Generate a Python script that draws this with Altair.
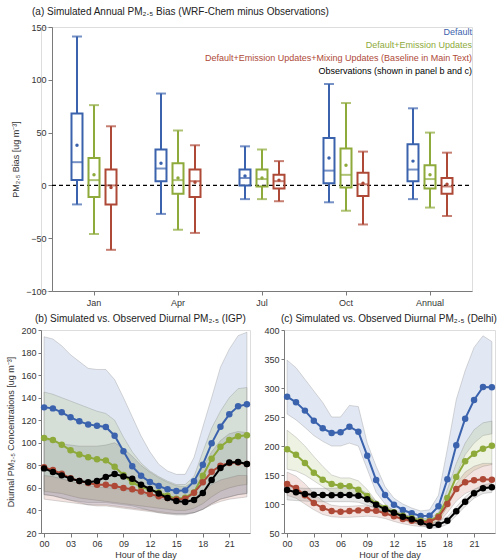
import altair as alt
import pandas as pd

FONT = "Liberation Sans"
BLUE = "#3B63AD"
GREEN = "#8DAA3B"
RED = "#AE4937"
BLACK = "#000000"

# ---------------- panel (a) data ----------------
cats = ["Jan", "Apr", "Jul", "Oct", "Annual"]
series_keys = ["Default", "Emission", "Mixing"]
legend_labels = ["Default", "Default+Emission Updates",
                 "Default+Emission Updates+Mixing Updates (Baseline in Main Text)",
                 "Observations (shown in panel b and c)"]

def_low = [-18, -27, -13, -16, -13]
def_q1 = [5, 4, 0, 2, 4]
def_med = [22, 16, 7, 14, 15]
def_q3 = [68, 34, 15, 45, 39]
def_high = [141, 87, 37, 96, 73]
def_mean = [38, 21, 9, 26, 23]

emi_low = [-46, -42, -13, -24, -21]
emi_q1 = [-11, -8, -1, -2, -3]
emi_med = [5, 5, 6, 10, 6]
emi_q3 = [26, 21, 15, 35, 19]
emi_high = [76, 52, 34, 78, 50]
emi_mean = [10, 7, 7, 19, 10]

mix_low = [-61, -45, -15, -37, -29]
mix_q1 = [-18, -11, -3, -10, -8]
mix_med = [0, 4, 4, 1, -1]
mix_q3 = [15, 15, 10, 12, 7]
mix_high = [56, 38, 23, 32, 31]
mix_mean = [-2, 3, 5, 2, 1]

# ---------------- panel (b)/(c) data ----------------
hours = list(range(24))
line_keys = ["Default", "Emission", "Mixing", "Obs"]

igp_def = [131.4, 130.5, 127, 122.6, 119, 116.3, 115.2, 114, 106.3, 92.4, 79.1, 70.8,
           65.2, 61.7, 58.7, 57.2, 57.8, 65.8, 80.6, 99.5, 114.3, 125.2, 132.3, 134.1]
igp_emi = [104.2, 102.5, 98.3, 93.3, 89.7, 87.1, 85.3, 84.4, 78.8, 71.4, 64.9, 61,
           58.4, 56, 53.1, 50.4, 51.3, 56, 70.8, 85.9, 96.5, 102.5, 105.7, 106.6]
igp_mix = [78.2, 75.8, 72.6, 68.5, 66.1, 64.3, 62.8, 62.8, 61.7, 59.9, 58.7, 56.9,
           54.6, 52.5, 51, 49.8, 50.4, 55.7, 64.9, 74.4, 79.7, 82, 82.6, 81.2]
igp_obs = [77.3, 74, 71.1, 68.2, 66.1, 64.9, 66.1, 69.7, 72.3, 70.2, 68.2, 62.8,
           59, 55.1, 51, 48.3, 47.5, 49.2, 55.5, 67, 77.6, 82.6, 82.9, 81.2]

igp_def_hi = [194, 192, 186, 178, 172, 166, 165, 165, 156, 140, 123, 106,
              92, 81, 75, 72, 72, 87, 114, 140, 167, 183, 195, 198]
igp_def_lo = [54, 53, 51, 49, 47, 45, 45, 45, 44, 43, 42, 41,
              40, 39, 38, 37, 37, 38, 41, 46, 50, 52, 54, 55]
igp_emi_hi = [145, 143, 140, 137, 134, 131, 128, 126, 120, 105, 92, 82,
              75, 70, 66, 63, 63, 70, 92, 113, 128, 140, 148, 149]
igp_emi_lo = [57, 56, 55, 53, 51, 50, 49, 48, 47, 46, 45, 44,
              43, 42, 41, 40, 40, 42, 46, 52, 57, 60, 62, 63]
igp_mix_hi = [71, 70, 68, 66, 64, 62, 61, 60, 60, 58, 57, 55,
              53, 51, 49, 48, 48, 51, 57, 63, 67, 69, 71, 71]
igp_mix_lo = [50, 49, 48, 47, 46, 45, 44, 44, 43, 42, 41, 40,
              39, 38, 37, 37, 37, 38, 41, 45, 48, 50, 51, 52]
igp_obs_hi = [103, 101, 99, 98, 97, 97, 97, 98, 100, 95, 88, 80,
              74, 69, 65, 62, 61, 66, 78, 92, 102, 108, 110, 109]
igp_obs_lo = [54, 53, 51, 49, 48, 47, 47, 47, 46, 45, 44, 42,
              40, 38, 37, 36, 36, 38, 41, 46, 50, 52, 54, 55]

del_def = [285, 275.3, 261, 243.7, 230.5, 222.4, 223.6, 233.3, 224.7, 183.3, 141.4, 115.5,
           98.9, 89.7, 84, 79.3, 79.9, 96, 142.5, 201.1, 247.1, 279.3, 301.7, 301.1]
del_emi = [194.3, 185, 170.7, 154, 142, 134.5, 131.6, 130.5, 124.7, 113.8, 100, 93.1,
           85.6, 79.9, 75.3, 71.3, 70.7, 79.3, 110.3, 146.6, 173.6, 186.8, 195.4, 200.6]
del_mix = [134.5, 127.6, 115, 101.7, 93.1, 87.9, 86.8, 87.9, 89, 89.7, 88.5, 84,
           78.7, 74.1, 71.3, 69, 69.5, 77, 100, 125.9, 137.4, 140.8, 142.5, 141.9]
del_obs = [124.1, 120.1, 117.2, 116.1, 115.5, 115, 115.5, 115.5, 114.4, 108, 98.9, 90.8,
           85.1, 78.2, 73.6, 68.4, 62.6, 64.4, 71.3, 87.4, 104, 118.4, 127, 128.7]

del_def_hi = [348, 335, 315, 295, 275, 250, 250, 270, 268, 205, 165, 130,
              110, 100, 93, 88, 90, 115, 195, 280, 330, 370, 390, 380]
del_def_lo = [255, 245, 232, 218, 208, 200, 200, 205, 200, 160, 120, 100,
              88, 80, 75, 72, 72, 82, 110, 150, 185, 205, 218, 221]
del_emi_hi = [227, 215, 200, 182, 165, 150, 145, 145, 140, 125, 105, 95,
              88, 82, 78, 75, 75, 85, 125, 170, 205, 228, 240, 243]
del_emi_lo = [160, 157, 150, 140, 130, 120, 118, 118, 115, 105, 92, 84,
              78, 72, 68, 64, 63, 70, 95, 125, 145, 158, 165, 168]
del_mix_hi = [155, 148, 135, 118, 105, 98, 96, 96, 97, 97, 95, 90,
              84, 79, 75, 72, 72, 80, 105, 135, 155, 165, 170, 170]
del_mix_lo = [115, 110, 100, 90, 82, 78, 77, 77, 78, 79, 78, 75,
              70, 66, 63, 61, 61, 67, 85, 105, 118, 125, 128, 128]
del_obs_hi = [130, 128, 127, 127, 127, 127, 128, 128, 127, 118, 105, 96,
              90, 83, 78, 73, 68, 70, 78, 95, 112, 125, 133, 136]
del_obs_lo = [107, 106, 105, 104, 104, 104, 104, 104, 103, 98, 92, 85,
              79, 73, 69, 64, 58, 59, 65, 80, 96, 110, 118, 120]

# ---------------- build panel (a) ----------------
rows = []
for key, lo, q1, md, q3, hi, mn in [
    ("Default", def_low, def_q1, def_med, def_q3, def_high, def_mean),
    ("Emission", emi_low, emi_q1, emi_med, emi_q3, emi_high, emi_mean),
    ("Mixing", mix_low, mix_q1, mix_med, mix_q3, mix_high, mix_mean),
]:
    for i, c in enumerate(cats):
        rows.append(dict(cat=c, series=key, low=lo[i], q1=q1[i], med=md[i],
                         q3=q3[i], high=hi[i], mean=mn[i]))
box_df = pd.DataFrame(rows)

AXC = "#7a7a7a"
SHIFT = 11          # top panel plot starts this far right of the lower panels
TOPW = 431
XA = alt.X("cat:N", sort=cats,
           scale=alt.Scale(domain=cats, paddingInner=0, paddingOuter=0, range=[SHIFT, TOPW]),
           axis=alt.Axis(title=None, labelAngle=0, labelFontSize=9, tickSize=4,
                         domainColor=AXC, tickColor=AXC, labelColor="#333", labelPadding=3))
XO = alt.XOffset("series:N", scale=alt.Scale(domain=series_keys, paddingInner=0, paddingOuter=0.97))
COL = alt.Color("series:N", scale=alt.Scale(domain=series_keys, range=[BLUE, GREEN, RED]), legend=None)
YS = alt.Scale(domain=[-100, 150], nice=False)
YA = alt.Axis(values=[-100, -50, 0, 50, 100, 150], title="PM₂.₅ Bias [ug m⁻³]",
              labelFontSize=9, titleFontSize=9, titleFontWeight="normal", tickSize=4,
              domainColor=AXC, tickColor=AXC, labelColor="#333", titleColor="#333",
              grid=False, titlePadding=5, offset=-SHIFT)


def Y(field):
    return alt.Y(field, scale=YS, axis=YA)


base = alt.Chart(box_df)
zero = alt.Chart(pd.DataFrame({"z": [0]})).mark_rule(
    strokeDash=[4, 3], color="black", strokeWidth=1.2).encode(
    y=Y("z:Q"), x=alt.value(SHIFT), x2=alt.value(TOPW))
wlo = base.mark_rule(strokeWidth=2).encode(x=XA, xOffset=XO, y=Y("low:Q"), y2="q1:Q", color=COL)
whi = base.mark_rule(strokeWidth=2).encode(x=XA, xOffset=XO, y=Y("q3:Q"), y2="high:Q", color=COL)
box = base.mark_bar(size=11, fillOpacity=0, strokeWidth=2).encode(
    x=XA, xOffset=XO, y=Y("q1:Q"), y2="q3:Q",
    stroke=alt.Stroke("series:N", scale=alt.Scale(domain=series_keys, range=[BLUE, GREEN, RED]), legend=None))
cap_lo = base.mark_tick(thickness=2, size=10, orient="horizontal").encode(x=XA, xOffset=XO, y=Y("low:Q"), color=COL)
cap_hi = base.mark_tick(thickness=2, size=10, orient="horizontal").encode(x=XA, xOffset=XO, y=Y("high:Q"), color=COL)
med = base.mark_tick(thickness=2, size=11, orient="horizontal").encode(x=XA, xOffset=XO, y=Y("med:Q"), color=COL)
mean = base.mark_circle(size=12, opacity=1).encode(x=XA, xOffset=XO, y=Y("mean:Q"), color=COL)

legend_cols = [BLUE, GREEN, RED, BLACK]
texts = []
for i, (lab, c) in enumerate(zip(legend_labels, legend_cols)):
    texts.append(alt.Chart(pd.DataFrame({"t": [lab]})).mark_text(
        align="right", baseline="middle", fontSize=9, font=FONT, color=c).encode(
        text="t:N", x=alt.value(TOPW), y=alt.value(5 + 13 * i)))

panel_a = alt.layer(zero, wlo, whi, box, cap_lo, cap_hi, med, mean, *texts).properties(
    width=TOPW, height=264,
    title=alt.TitleParams("(a) Simulated Annual PM₂.₅ Bias (WRF-Chem minus Observations)",
                          anchor="start", frame="group", dx=-9, fontSize=10,
                          fontWeight="normal", font=FONT, color="#222", offset=6))

# ---------------- build panels (b), (c) ----------------
band_fill = [BLUE, GREEN, RED, "#555555"]
line_cols = [BLUE, GREEN, RED, BLACK]


def diurnal(title, lines, los, his, ydom, yvals, ytitle, width, tdx):
    ldf = pd.DataFrame([dict(hour=h, series=k, v=vals[j])
                        for k, vals in zip(line_keys, lines) for j, h in enumerate(hours)])
    bdf = pd.DataFrame([dict(hour=h, series=k, lo=lo[j], hi=hi[j])
                        for k, lo, hi in zip(line_keys, los, his) for j, h in enumerate(hours)])
    X = alt.X("hour:Q", scale=alt.Scale(domain=[-0.35, 23.35], nice=False, zero=False),
              axis=alt.Axis(values=list(range(0, 24, 3)), title="Hour of the day",
                            labelExpr="datum.value < 10 ? '0' + datum.value : '' + datum.value",
                            labelFontSize=9, titleFontSize=9, titleFontWeight="normal",
                            tickSize=4, domainColor=AXC, tickColor=AXC, labelColor="#333",
                            titleColor="#333", grid=False, titlePadding=2))
    ys = alt.Scale(domain=ydom, nice=False, zero=False)
    ya = alt.Axis(values=yvals, title=ytitle, labelFontSize=9, titleFontSize=9,
                  titleFontWeight="normal", tickSize=3, domainColor=AXC, tickColor=AXC,
                  labelColor="#333", titleColor="#333", grid=False, titlePadding=5)
    bands = alt.Chart(bdf).mark_area(fillOpacity=0.15, stroke="#777777", strokeOpacity=0.4,
                                     strokeWidth=0.7).encode(
        x=X, y=alt.Y("lo:Q", scale=ys, axis=ya), y2="hi:Q",
        fill=alt.Fill("series:N", scale=alt.Scale(domain=line_keys, range=band_fill), legend=None))
    layers = [bands]
    for k, c in zip(line_keys, line_cols):
        sub = alt.Chart(ldf[ldf.series == k])
        layers.append(sub.mark_line(strokeWidth=2, color=c).encode(
            x=X, y=alt.Y("v:Q", scale=ys, axis=ya)))
        layers.append(sub.mark_circle(size=42, opacity=1, color=c).encode(
            x=X, y=alt.Y("v:Q", scale=ys, axis=ya)))
    return alt.layer(*layers).properties(
        width=width, height=203,
        title=alt.TitleParams(title, anchor="start", frame="group", dx=tdx, fontSize=10,
                              fontWeight="normal", font=FONT, color="#222", offset=2))


panel_b = diurnal("(b) Simulated vs. Observed Diurnal PM₂.₅ (IGP)",
                  [igp_def, igp_emi, igp_mix, igp_obs],
                  [igp_def_lo, igp_emi_lo, igp_mix_lo, igp_obs_lo],
                  [igp_def_hi, igp_emi_hi, igp_mix_hi, igp_obs_hi],
                  [20, 200], list(range(20, 201, 20)),
                  "Diurnal PM₂.₅ Concentrations [ug m⁻³]", 209, -6)
panel_c = diurnal("(c) Simulated vs. Observed Diurnal PM₂.₅ (Delhi)",
                  [del_def, del_emi, del_mix, del_obs],
                  [del_def_lo, del_emi_lo, del_mix_lo, del_obs_lo],
                  [del_def_hi, del_emi_hi, del_mix_hi, del_obs_hi],
                  [50, 400], list(range(50, 401, 50)), None, 211, -3)

chart = alt.vconcat(
    panel_a,
    alt.hconcat(panel_b, panel_c, spacing=11),
    spacing=5,
).properties(padding={"left": 6, "top": 6, "right": 0, "bottom": 0}).configure_view(
    stroke=None).configure(font=FONT).configure_axis(labelFont=FONT, titleFont=FONT)

chart.save("out.html", embed_options={"renderer": "svg", "actions": False})
